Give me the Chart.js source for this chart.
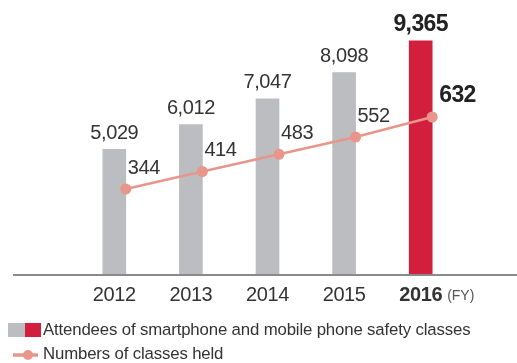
<!DOCTYPE html>
<html>
<head>
<meta charset="utf-8">
<script src="https://cdn.jsdelivr.net/npm/chart.js@4.4.0/dist/chart.umd.min.js"></script>
<style>
  html, body { margin: 0; padding: 0; background: #fff; }
  #wrap { width: 517px; height: 363px; position: relative; }
</style>
</head>
<body>
<div id="wrap"><canvas id="c" width="517" height="363"></canvas></div>
<script>
const years = ['2012', '2013', '2014', '2015', '2016'];
const attendees = [5029, 6012, 7047, 8098, 9365];
const classesHeld = [344, 414, 483, 552, 632];
const barColors = ['#BCBDC0', '#BCBDC0', '#BCBDC0', '#BCBDC0', '#D31F3E'];
const highlightIndex = 4;
const unitLabel = '(FY)';
const legendBarLabel = 'Attendees of smartphone and mobile phone safety classes';
const legendLineLabel = 'Numbers of classes held';

const FONT = '"Liberation Sans", Arial, sans-serif';
const TEXT = '#333333';
const LINE_COLOR = '#E8968B';
const fmt = v => v.toLocaleString('en-US');

const spacing = {
  id: 'spacing',
  beforeDraw(chart) { chart.ctx.letterSpacing = '-0.4px'; }
};

const shiftLine = {
  id: 'shiftLine',
  afterDatasetsUpdate(chart) {
    const bars = chart.getDatasetMeta(0).data;
    const line = chart.getDatasetMeta(1).data;
    line.forEach((p, i) => { p.x = bars[i].x + bars[i].width / 2; });
  }
};

const decorations = {
  id: 'decorations',
  afterDatasetsDraw(chart) {
    const ctx = chart.ctx;
    const bars = chart.getDatasetMeta(0).data;
    const pts = chart.getDatasetMeta(1).data;
    ctx.save();
    // baseline
    ctx.strokeStyle = '#8A8A8A';
    ctx.lineWidth = 2;
    ctx.beginPath();
    ctx.moveTo(13, chart.chartArea.bottom);
    ctx.lineTo(chart.width, chart.chartArea.bottom);
    ctx.stroke();
    ctx.textBaseline = 'middle';
    // bar value labels
    bars.forEach((b, i) => {
      const hl = i === highlightIndex;
      ctx.letterSpacing = hl ? '-0.6px' : '-0.4px';
      ctx.font = (hl ? 'bold 23px ' : '20px ') + FONT;
      ctx.fillStyle = hl ? '#222' : TEXT;
      ctx.textAlign = 'center';
      ctx.fillText(fmt(attendees[i]), b.x, b.y - 16);
    });
    // line value labels
    pts.forEach((p, i) => {
      const hl = i === highlightIndex;
      ctx.letterSpacing = hl ? '-0.6px' : '-0.4px';
      ctx.font = (hl ? 'bold 23px ' : '20px ') + FONT;
      ctx.fillStyle = hl ? '#222' : TEXT;
      ctx.textAlign = 'left';
      ctx.fillText(fmt(classesHeld[i]), p.x + (hl ? 7 : 2), p.y - 21);
    });
    // (FY)
    const xs = chart.scales.x;
    const lastX = xs.getPixelForValue(years.length - 1);
    ctx.letterSpacing = '-0.4px';
    ctx.font = 'bold 20px ' + FONT;
    const w = ctx.measureText(years[years.length - 1]).width;
    ctx.letterSpacing = '0px';
    ctx.font = '14px ' + FONT;
    ctx.fillStyle = '#555';
    ctx.textAlign = 'left';
    ctx.fillText(unitLabel, lastX + w / 2 + 5, 296);
    // legend
    ctx.fillStyle = '#BCBDC0';
    ctx.fillRect(8, 323, 17, 14);
    ctx.fillStyle = '#D31F3E';
    ctx.fillRect(25, 323, 16, 14);
    ctx.letterSpacing = '-0.15px';
    ctx.font = '16.8px ' + FONT;
    ctx.fillStyle = TEXT;
    ctx.fillText(legendBarLabel, 43, 330.5);
    ctx.strokeStyle = LINE_COLOR;
    ctx.lineWidth = 3.5;
    ctx.beginPath();
    ctx.moveTo(13, 355);
    ctx.lineTo(38, 355);
    ctx.stroke();
    ctx.fillStyle = LINE_COLOR;
    ctx.beginPath();
    ctx.arc(28, 355, 5, 0, Math.PI * 2);
    ctx.fill();
    ctx.fillStyle = TEXT;
    ctx.fillText(legendLineLabel, 43, 354);
    ctx.restore();
  }
};

new Chart(document.getElementById('c'), {
  data: {
    labels: years,
    datasets: [
      {
        type: 'bar',
        label: legendBarLabel,
        data: attendees,
        backgroundColor: barColors,
        barThickness: 23,
        yAxisID: 'y',
        order: 2
      },
      {
        type: 'line',
        label: legendLineLabel,
        data: classesHeld,
        borderColor: LINE_COLOR,
        backgroundColor: LINE_COLOR,
        borderWidth: 2.5,
        pointRadius: 5.5,
        pointBackgroundColor: LINE_COLOR,
        pointBorderWidth: 0,
        tension: 0,
        yAxisID: 'y1',
        order: 1
      }
    ]
  },
  options: {
    responsive: false,
    animation: false,
    devicePixelRatio: 1,
    layout: { padding: { left: 76, right: 58, top: 25, bottom: 0 } },
    plugins: { legend: { display: false }, tooltip: { enabled: false } },
    scales: {
      x: {
        offset: true,
        grid: { display: false, drawTicks: false },
        border: { display: false },
        ticks: {
          padding: 8,
          color: TEXT,
          font: ctx => ({ family: FONT, size: 20, weight: ctx.index === highlightIndex ? 'bold' : 'normal' })
        },
        afterFit: s => { s.height = 88; }
      },
      y: { display: false, min: 0, max: 10000 },
      y1: { display: false, min: 0, max: 1000 }
    }
  },
  plugins: [spacing, shiftLine, decorations]
});
</script>
</body>
</html>
